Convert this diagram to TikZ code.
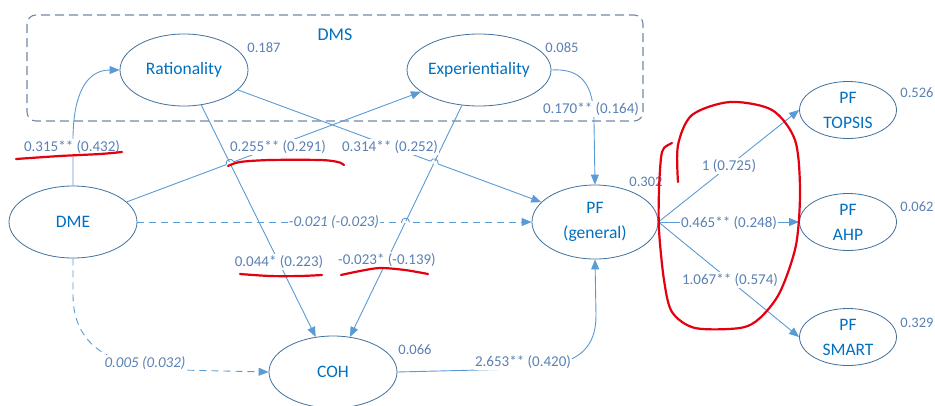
\documentclass[tikz,border=0pt]{standalone}
\usepackage{fontspec}
\setmainfont{Carlito}
\usetikzlibrary{shapes.geometric,arrows.meta}
\definecolor{ellcol}{HTML}{41719C}
\definecolor{txtcol}{HTML}{0070C0}
\definecolor{edgecol}{HTML}{5B9BD5}
\definecolor{numcol}{HTML}{5A80B4}
\definecolor{boxcol}{HTML}{7288A8}
\definecolor{redink}{HTML}{E3000F}
\tikzset{
  ell/.style={ellipse, draw=ellcol, line width=0.8pt, inner sep=0pt,
    minimum width=128pt, minimum height=72pt, text=txtcol, align=center,
    font=\fontsize{17.5}{25}\selectfont},
  pfell/.style={ell, minimum width=97pt, minimum height=57pt},
  edge/.style={draw=edgecol, line width=0.9pt, -{Triangle[length=10pt,width=8pt]}},
  dedge/.style={edge, dash pattern=on 7pt off 5pt},
  hopgap/.style={draw=white, line width=2.6pt},
  hop/.style={draw=edgecol, line width=0.9pt},
  lab/.style={fill=white, inner sep=1pt, text=numcol, font=\fontsize{15}{17}\selectfont},
  ilab/.style={lab, font=\fontsize{15}{17}\selectfont\itshape},
  rsq/.style={inner sep=0pt, text=numcol, font=\fontsize{14.5}{17}\selectfont},
  redmark/.style={draw=redink, line width=2.2pt, line cap=round, line join=round}
}
\begin{document}
\begin{tikzpicture}[x=1pt,y=-1pt]
\useasboundingbox (0,0) rectangle (935,405);
\fill[white] (0,0) rectangle (935,405);
% DMS box
\draw[boxcol, line width=1.1pt, dash pattern=on 9pt off 5pt, rounded corners=9pt] (27,15) rectangle (643,121);
\node[text=txtcol, font=\fontsize{18}{20}\selectfont] (dms) at (335,35) {DMS};
% nodes
\node[ell] (rat) at (184,70) {Rationality};
\node[ell] (exp) at (479,70) {Experientiality};
\node[ell] (dme) at (73,222) {DME};
\node[ell] (coh) at (333,372) {COH};
\node[ell, minimum width=126pt, minimum height=74pt] (pf) at (595,222) {PF\\(general)};
\node[pfell] (topsis) at (848,110) {PF\\TOPSIS};
\node[pfell] (ahp) at (848,222) {PF\\AHP};
\node[pfell] (smart) at (848,337) {PF\\SMART};
% R squared
\node[rsq] (r1) at (264,48) {0.187};
\node[rsq] (r2) at (562,48) {0.085};
\node[rsq] (r3) at (646,182) {0.302};
\node[rsq] (r4) at (917,93) {0.526};
\node[rsq] (r5) at (917,207) {0.062};
\node[rsq] (r6) at (917,323) {0.329};
\node[rsq] (r7) at (415,350) {0.066};
% edges
\draw[edge] (dme.north) -- (73,140) .. controls (73,95) and (86,70) .. (rat.west);
\draw[edge] (rat) -- (coh);
\draw[edge] (exp) -- (coh);
\draw[edge] (dme) -- (exp);
\draw[edge] (rat) -- (pf);
\draw[edge] (exp.east) .. controls (582,68) and (594,85) .. (594,122) -- (pf.north);
\draw[dedge] (dme) -- (pf);
\draw[dedge] (dme.south) -- (73,295) .. controls (73,345) and (110,369) .. (180,370) -- (coh.west);
\draw[edge] (coh.east) -- (520,369) .. controls (583,367) and (596,345) .. (596,315) -- (pf.south);
\draw[edge] (pf.east) -- (topsis.west);
\draw[edge] (pf.east) -- (ahp.west);
\draw[edge] (pf.east) -- (smart.west);
% line hops at crossings
\coordinate (h1a) at (226.25,164.6); \coordinate (h1b) at (233.75,161.8);
\draw[hopgap] (h1a) -- (h1b);
\draw[hop] (h1a) .. controls (224.5,159.9) and (232.0,157.1) .. (h1b);
\coordinate (h2a) at (430.55,161.2); \coordinate (h2b) at (438.0,164.0);
\draw[hopgap] (h2a) -- (h2b);
\draw[hop] (h2a) .. controls (432.3,156.5) and (439.7,159.3) .. (h2b);
\coordinate (h3a) at (401.5,222); \coordinate (h3b) at (409.5,222);
\draw[hopgap] (h3a) -- (h3b);
\draw[hop] (h3a) .. controls (401.5,217) and (409.5,217) .. (h3b);
% edge labels
\node[lab] (l1) at (72,147) {0.315** (0.432)};
\node[lab] (l2) at (278,147) {0.255** (0.291)};
\node[lab] (l3) at (390,147) {0.314** (0.252)};
\node[lab] (l4) at (591,109) {0.170** (0.164)};
\node[ilab] (l5) at (334,222) {-0.021 (-0.023)};
\node[lab] (l6) at (279,262) {0.044* (0.223)};
\node[lab] (l7) at (387,260) {-0.023* (-0.139)};
\node[ilab] (l8) at (145,363) {0.005 (0.032)};
\node[lab] (l9) at (523,362) {2.653** (0.420)};
\node[lab] (l10) at (729,166) {1 (0.725)};
\node[lab] (l11) at (729,223) {0.465** (0.248)};
\node[lab] (l12) at (730,280) {1.067** (0.574)};
% red hand marks
\draw[redmark] plot[smooth] coordinates {(16,159) (60,156) (100,154) (122,152)};
\draw[redmark] plot[smooth] coordinates {(228,166) (240,162) (270,160) (320,160) (338,162) (344,165)};
\draw[redmark] plot[smooth] coordinates {(240,274) (270,276) (300,276) (322,275)};
\draw[redmark] plot[smooth] coordinates {(341,275) (360,271) (380,268) (405,270) (428,274)};
\draw[redmark] plot[smooth] coordinates {(678,182) (678,145) (692,115) (730,102) (772,110) (795,140) (800,190) (796,245) (780,292) (760,318) (740,328) (695,328) (672,312) (664,280) (659,230) (659,190) (661,158) (664,148) (672,143)};
\end{tikzpicture}
\end{document}
